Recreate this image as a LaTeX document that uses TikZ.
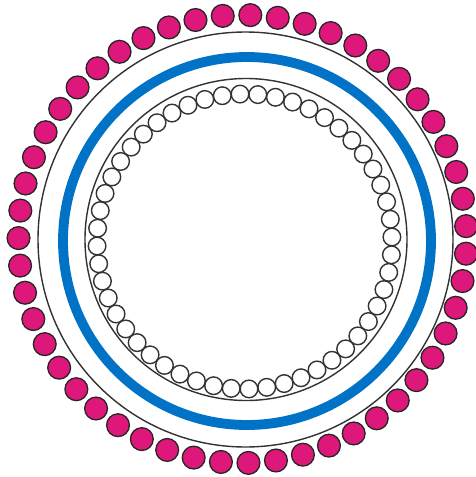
\documentclass[tikz,border=0pt]{standalone}

\definecolor{dotpink}{RGB}{222,24,122}
\definecolor{ringblue}{RGB}{0,115,198}

\begin{document}
\begin{tikzpicture}[x=0.02cm,y=-0.02cm,wire/.style={draw=black!80,line width=0.8pt},bead/.style={draw=black!80,line width=0.8pt},dot/.style={fill=dotpink,draw=black!85,line width=0.75pt},band/.style={draw=ringblue,line width=5.6pt}]
\useasboundingbox (0,0) rectangle (476,477);
% outer thin ring and blue band
\draw[wire] (245.5,239.5) circle (207.5);
\draw[band] (247,241) circle (184);
% inner thin ring
\draw[wire] (246,239.5) circle (161);
% small open beads
\foreach \i in {0,...,51}
  \draw[bead] ({244.5+147.5*cos(91.75+\i*(360/52))},{241.5-147.5*sin(91.75+\i*(360/52))}) circle (8.8);
% outer pink dots
\foreach \i in {0,...,50}
  \draw[dot] ({242.5+224*cos(88+\i*(360/51))},{239-224*sin(88+\i*(360/51))}) circle (11.4);
\end{tikzpicture}
\end{document}
